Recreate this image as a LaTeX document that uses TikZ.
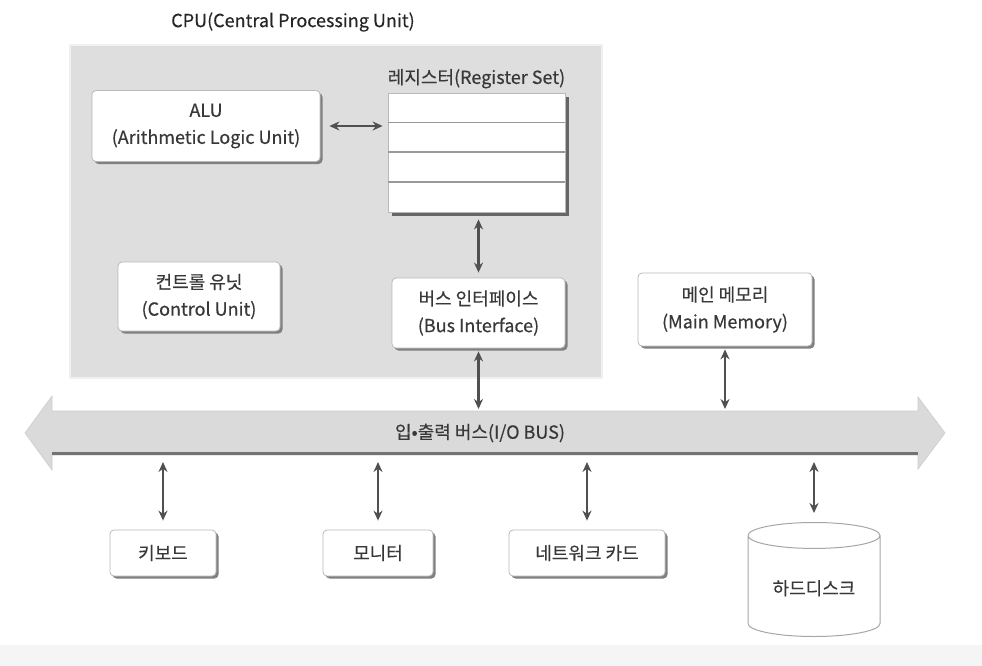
\documentclass[tikz,border=0pt]{standalone}
\usepackage{fontspec}
\newfontfamily\krfont[FakeBold=0.4]{Noto Sans CJK KR}
\usetikzlibrary{arrows.meta,shadows,shapes.geometric,positioning}
\definecolor{txtgray}{HTML}{383838}
\definecolor{cpugray}{HTML}{DEDEDE}
\definecolor{busgray}{HTML}{DADADA}
\definecolor{linkgray}{HTML}{505050}
\tikzset{
  every node/.style={font=\krfont\fontsize{18}{27}\selectfont, text=txtgray},
  unitbox/.style={draw=gray!55, fill=white, rounded corners=4pt, line width=0.8pt, align=center,
    drop shadow={shadow xshift=2.5pt, shadow yshift=-2.5pt, fill=black!50, opacity=1}},
  regbox/.style={draw=gray!55, fill=white, line width=0.8pt, minimum width=177pt, minimum height=119pt,
    drop shadow={shadow xshift=4pt, shadow yshift=-4pt, fill=black!60, opacity=1}},
  disk/.style={cylinder, shape border rotate=90, draw=gray!70, fill=white, line width=1pt,
    aspect=0.29, minimum width=132pt, minimum height=114pt},
  link/.style={linkgray, line width=2.6pt, {Stealth[length=10pt,width=9pt]}-{Stealth[length=10pt,width=9pt]}},
}
\newcommand{\busdown}[1]{\draw[link, shorten <=3pt, shorten >=2pt] (#1.south) -- (#1.south |- bustop);}

\begin{document}
\begin{tikzpicture}[x=1pt, y=-1pt]
\useasboundingbox (0,0) rectangle (982,666);
\fill[black!4] (0,645) rectangle (982,666);
% cpu
\node[draw=gray!12, fill=cpugray, line width=2pt, minimum width=532pt, minimum height=333pt] (cpu) at (336,211.5) {};
\node[text=black!85] (cputitle) at (293,22) {CPU(Central Processing Unit)};
\node[unitbox, minimum width=228pt, minimum height=71pt] (alu) at (206,126) {ALU\\(Arithmetic Logic Unit)};
\node[regbox] (regs) at (476.5,152.5) {};
\foreach \k in {1,2,3}
    \draw[gray!80, line width=1.5pt] ([yshift=-\k*29.75pt]regs.north west) -- ([yshift=-\k*29.75pt]regs.north east);
\node[above=1pt of regs, inner sep=3pt] (reglabel) {레지스터(Register Set)};
\node[unitbox, minimum width=162pt, minimum height=69pt] (ctrl) at (199,296.5) {컨트롤 유닛\\(Control Unit)};
\node[unitbox, minimum width=173pt, minimum height=70pt] (busif) at (478.5,313) {버스 인터페이스\\(Bus Interface)};
\node[unitbox, minimum width=174pt, minimum height=73pt] (mem) at (725,309.5) {메인 메모리\\(Main Memory)};
\draw[link, line width=1.8pt, shorten <=9pt, shorten >=5pt] (alu.east) -- (regs.west |- alu.east);
\draw[link, line width=3pt, shorten <=7pt, shorten >=5pt] (regs.south -| busif.north) -- (busif.north);

% i/o bus
\fill[busgray, draw=gray!40, line width=0.6pt] (52,411) -- (918,411) -- (918,397) -- (945,433) -- (918,469)
    -- (918,455) -- (52,455) -- (52,470) -- (25,433) -- (52,396) -- cycle;
\draw[black!55, line width=3pt] (52,453.5) -- (918,453.5);
\coordinate (bustop) at (480,411);
\coordinate (busbot) at (480,457);
\node (bus) at (480,433) {입•출력 버스(I/O BUS)};
\busdown{busif}
\busdown{mem}

% devices
\foreach \nm/\x/\w/\txt in {kbd/163/106/키보드, mon/378/110/모니터, nic/587/156/네트워크 카드}
    \node[unitbox, minimum width=\w pt, minimum height=46pt] (\nm) at (\x,553) {\txt};
\node[disk, anchor=north] (hdd) at (814,522) {하드디스크};
\foreach \nm in {kbd,mon,nic,hdd}
    \draw[link, shorten <=5pt, shorten >=9pt] (\nm.north |- busbot) -- (\nm.north);
\end{tikzpicture}
\end{document}
